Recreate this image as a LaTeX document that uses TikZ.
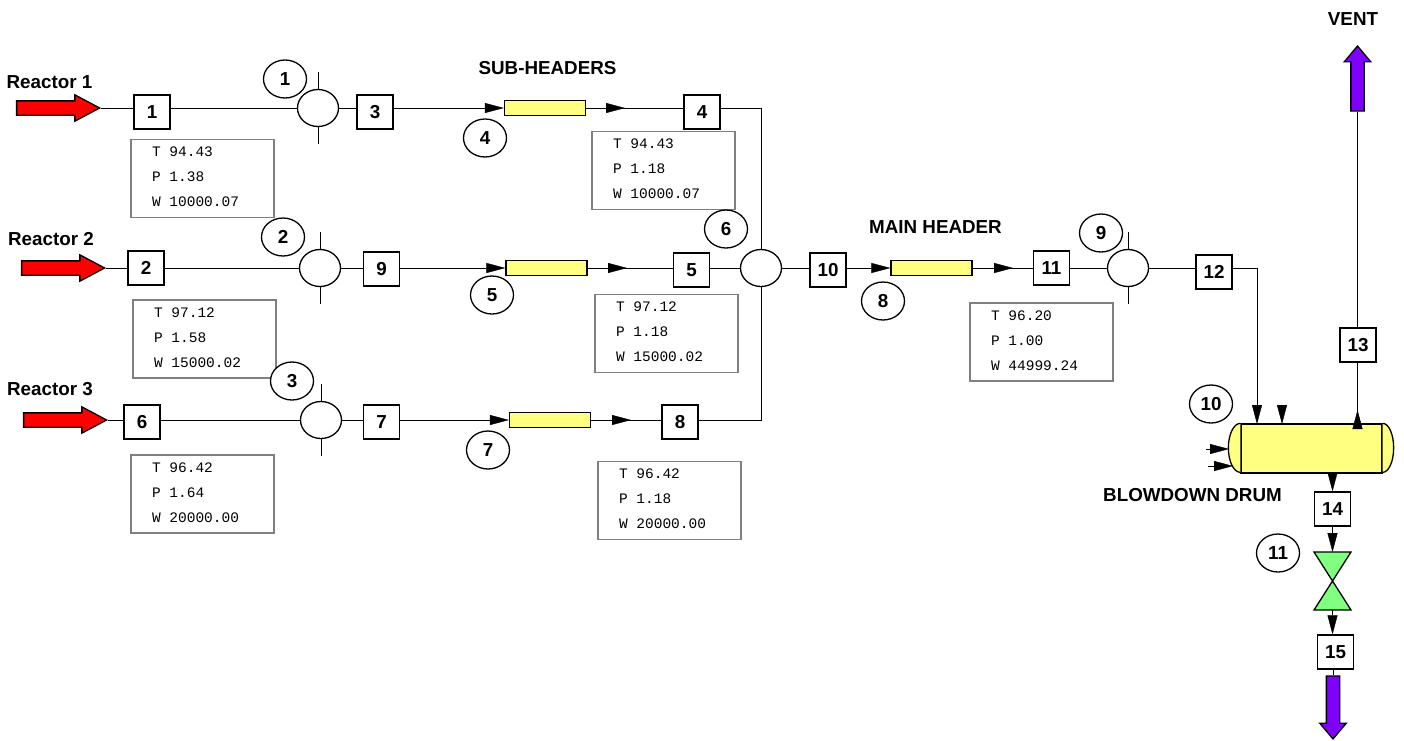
\documentclass[tikz,border=0pt]{standalone}
\usepackage{fontspec}
\setmainfont{Liberation Sans}
\setmonofont{Liberation Mono}
\usepackage{xcolor}
\usetikzlibrary{arrows.meta,shapes.geometric,shapes.arrows,backgrounds}
\definecolor{feed}{HTML}{FF0000}
\definecolor{purge}{HTML}{8000FF}
\definecolor{vessel}{HTML}{FFFF80}
\definecolor{valvefill}{HTML}{80FF80}

\begin{document}
\begin{tikzpicture}[
  x=1pt, y=-1pt,
  line width=1.3pt,
  font=\fontsize{18.8}{21}\selectfont\bfseries,
  stream/.style={draw=black, fill=white, minimum width=36pt, minimum height=34pt, inner sep=0pt},
  tag/.style={draw=black, fill=white, ellipse, minimum width=43pt, minimum height=38pt, inner sep=0pt},
  mixer/.style={draw=black, fill=white, ellipse, minimum width=41pt, minimum height=37pt, inner sep=0pt},
  pipe/.style={draw=black, fill=vessel, minimum width=81pt, minimum height=15pt, inner sep=0pt},
  card/.style={draw=black!50, fill=white, line width=1.2pt, minimum width=143pt, minimum height=78pt,
               inner xsep=21pt, inner ysep=0pt, text width=101pt, align=left, text depth=53.3pt,
               font=\fontsize{14.5}{25}\selectfont\ttfamily\mdseries},
  inlet/.style={draw=black, fill=feed, single arrow, anchor=tip, minimum height=83pt, minimum width=25pt,
                inner sep=6.5pt, single arrow head extend=6pt, single arrow tip angle=56},
  outlet/.style={draw=black, fill=purge, single arrow, anchor=tip, minimum width=25pt, inner sep=6pt,
                 single arrow head extend=6.5pt, single arrow tip angle=80},
  label/.style={inner sep=0pt},
  line/.style={draw=black},
  flow/.style={draw=black, -{Triangle[length=19pt,width=10pt]}},
]
\useasboundingbox (0,0) rectangle (1404,740);

% Three reactor feeds.
\node[inlet] (r1) at (101,108) {};
\node[inlet] (r2) at (106,268) {};
\node[inlet] (r3) at (108,420) {};
\node[label] (lr1) at (49.5,82) {Reactor 1};
\node[label] (lr2) at (51,239) {Reactor 2};
\node[label] (lr3) at (50,389) {Reactor 3};

% Mixers, with their cross lines drawn behind.
\foreach \i/\x/\y in {1/318/108, 2/320/268, 3/321/420, 6/761/268, 9/1128/268} {
  \node[mixer] (m\i) at (\x,\y) {};
}

% Sub-headers and main header.
\node[pipe] (p4) at (545,108) {};
\node[pipe] (p5) at (546.5,268) {};
\node[pipe] (p7) at (550,420) {};
\node[pipe] (p8) at (931.5,268) {};
\node[label] (lsub) at (547.5,68) {SUB-HEADERS};
\node[label] (lmain) at (935.5,227) {MAIN HEADER};

% Stream numbers.
\foreach \n/\x/\y in {1/152/112, 3/375/112, 4/702/112, 2/146/268, 9/381.5/269, 5/691.5/270,
                      6/142/422, 7/381.5/422, 8/680/422, 10/828/270, 11/1051.5/268, 12/1214/272,
                      13/1358/345, 14/1332.5/509, 15/1335.5/652} {
  \node[stream] (s\n) at (\x,\y) {\n};
}

% Stream data.
\foreach \n/\x/\y/\t/\p/\w in {1/202.5/178.5/94.43/1.38/10000.07, 4/663.5/170.5/94.43/1.18/10000.07,
                               2/204.5/339/97.12/1.58/15000.02, 5/666.5/333.5/97.12/1.18/15000.02,
                               6/202.5/494/96.42/1.64/20000.00, 8/669.5/500.5/96.42/1.18/20000.00,
                               11/1041.5/342/96.20/1.00/44999.24} {
  \node[card] (d\n) at (\x,\y) {T\hspace{8.7pt}\t\\P\hspace{8.7pt}\p\\W\hspace{8.7pt}\w};
}

% Equipment numbers.
\foreach \n/\x/\y in {1/285/79, 2/283/237, 3/292/381, 4/485/138, 5/492/295, 6/726/229,
                      7/488/450, 8/883/301, 9/1101/233, 10/1211/404, 11/1278/553} {
  \node[tag] (t\n) at (\x,\y) {\n};
}

% Blowdown drum with its two heads.
\node[draw=black, fill=vessel, minimum width=141pt, minimum height=49pt, inner sep=0pt] (drum) at (1311.5,448.5) {};
\draw[line, fill=vessel] (drum.north west) arc[start angle=90, end angle=270, x radius=12pt, y radius=24.5pt];
\draw[line, fill=vessel] (drum.north east) arc[start angle=90, end angle=-90, x radius=11pt, y radius=24.5pt];
\node[label] (ldrum) at (1192.5,495) {BLOWDOWN DRUM};

% Blowdown valve and the two exits.
\coordinate (valve) at (1332.5,581);
\coordinate (vtop) at (1332.5,552);
\coordinate (vbot) at (1332.5,610);
\draw[line, fill=valvefill] (valve) -- ++(-18.5,-29) -- ++(37,0) -- cycle;
\draw[line, fill=valvefill] (valve) -- ++(-18.5,29) -- ++(37,0) -- cycle;
\node[outlet, shape border rotate=90, minimum height=65pt] (vent) at (1357.5,45) {};
\node[outlet, shape border rotate=270, minimum height=63pt] (drain) at (1333,740) {};
\node[label] (lvent) at (1353,19) {VENT};

% Free ends of the short arrows.
\coordinate (a4) at (625,108);
\coordinate (a5) at (627,268);
\coordinate (a7) at (631,420);
\coordinate (a8) at (1013,268);
\coordinate (d12) at (1257,424);
\coordinate (d0) at (1282,407);
\coordinate (d1) at (1282,424);
\coordinate (d2) at (1206,449);
\coordinate (d3) at (1229,449);
\coordinate (d4) at (1208,466);
\coordinate (d5) at (1233,466);
\coordinate (d13) at (1357.5,426);
\coordinate (d14) at (1357.5,410);

\begin{pgfonlayer}{background}
\foreach \i in {1,2,3,9} {
  \draw[line] ([yshift=36pt]m\i.center) -- ([yshift=-36pt]m\i.center);
}
% Feeds into the sub-headers.
\draw[line] (r1.tip) -- (m1);
\draw[line] (r2.tip) -- (m2);
\draw[line] (r3.tip) -- (m3);
\draw[flow] (m1) -- (p4);
\draw[flow] (m2) -- (p5);
\draw[flow] (m3) -- (p7);
% Sub-headers into the main header.
\draw[line] (p4.east) -| (m6.north);
\draw[line] (p5.east) -- (m6.west);
\draw[line] (p7.east) -| (m6.south);
\draw[flow] (m6) -- (p8);
\draw[line] (p8.east) -- (m9.west);
% Main header into the drum.
\draw[flow] (m9) -| (d12);
% Drum overhead and bottom.
\draw[line] (d13) -- (vent.tail);
\draw[line] (drain.tail) -- (drain.tail |- s15.south);
\end{pgfonlayer}

\draw[flow] (p4.east) -- (a4);
\draw[flow] (p5.east) -- (a5);
\draw[flow] (p7.east) -- (a7);
\draw[flow] (p8.east) -- (a8);
\draw[flow] (d0) -- (d1);
\draw[flow] (d2) -- (d3);
\draw[flow] (d4) -- (d5);
\draw[flow] (d13) -- (d14);
\draw[flow] (s14.north |- drum.south) -- (s14.north);
\draw[flow] (s14.south) -- (vtop);
\draw[flow] (vbot) -- (vbot |- s15.north);
\end{tikzpicture}
\end{document}
